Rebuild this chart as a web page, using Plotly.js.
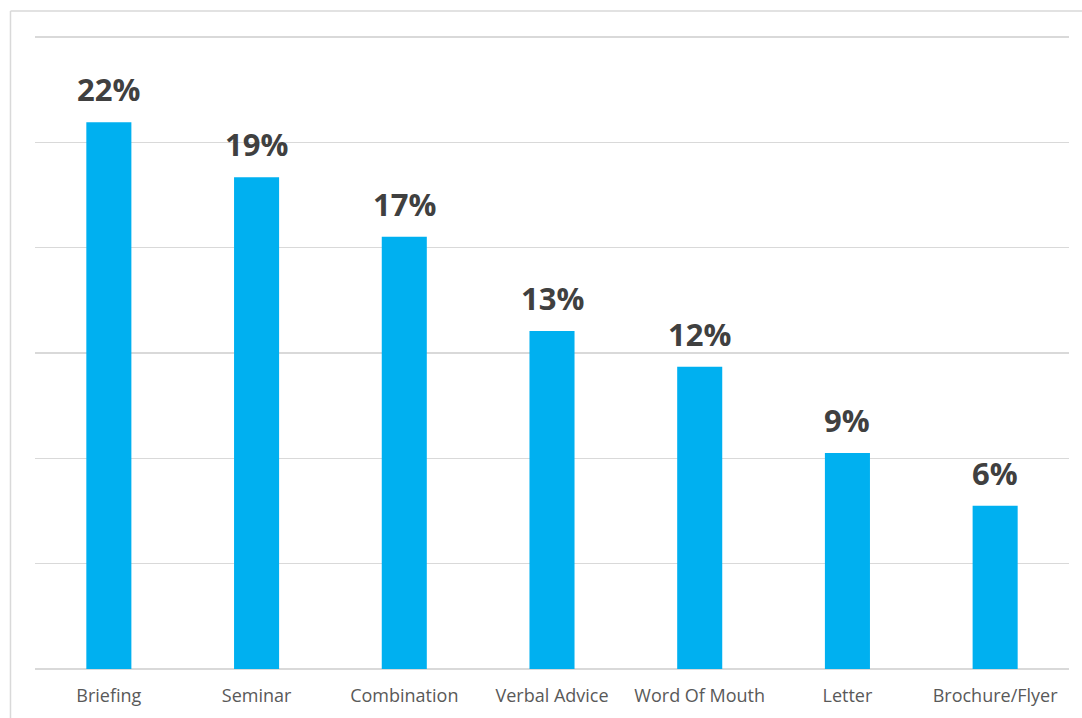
<!DOCTYPE html>
<html>
<head>
<meta charset="utf-8">
<script src="https://cdn.plot.ly/plotly-3.0.1.min.js"></script>
<style>html,body{margin:0;padding:0;background:#fff;}#chart{width:1082px;height:718px;}</style>
</head>
<body>
<div id="chart"></div>
<script>
const categories = ["Briefing", "Seminar", "Combination", "Verbal Advice", "Word Of Mouth", "Letter", "Brochure/Flyer"];
const values = [51.9, 46.7, 41.05, 32.1, 28.7, 20.5, 15.5];
const labels = ["22%", "19%", "17%", "13%", "12%", "9%", "6%"];

const trace = {
  type: "bar",
  x: categories,
  y: values,
  marker: {color: "#00B0F0"},
  hoverinfo: "x+text",
  hovertext: labels
};

const annotations = categories.map((c, i) => ({
  x: c, y: values[i], xref: "x", yref: "y",
  text: "<b>" + labels[i] + "</b>",
  showarrow: false, yanchor: "bottom", xanchor: "center",
  yshift: 10,
  font: {family: "Open Sans, sans-serif", size: 31, color: "#404040"}
}));

const layout = {
  width: 1082, height: 718,
  margin: {l: 35, r: 13, t: 36, b: 49},
  paper_bgcolor: "#ffffff", plot_bgcolor: "#ffffff",
  showlegend: false,
  bargap: 0.695,
  xaxis: {
    showgrid: false, showline: false, zeroline: false, ticks: "",
    tickfont: {family: "Open Sans, sans-serif", size: 18, color: "#595959"},
    ticklabelstandoff: 14
  },
  yaxis: {
    range: [0, 60.1], tick0: 0, dtick: 10, showticklabels: false,
    showgrid: true, gridcolor: "#d9d9d9", gridwidth: 1.5,
    zeroline: true, zerolinecolor: "#d9d9d9", zerolinewidth: 1.5,
    showline: false, ticks: ""
  },
  annotations: annotations,
  shapes: [
    {type: "line", xref: "paper", yref: "paper", x0: -0.0237, x1: -0.0237, y0: -0.2, y1: 1.0396,
     line: {color: "#d9d9d9", width: 1.5}},
    {type: "line", xref: "paper", yref: "paper", x0: -0.0237, x1: 1.1, y0: 1.0396, y1: 1.0396,
     line: {color: "#d9d9d9", width: 1.5}}
  ]
};

Plotly.newPlot("chart", [trace], layout, {displayModeBar: false, staticPlot: true});
</script>
</body>
</html>
